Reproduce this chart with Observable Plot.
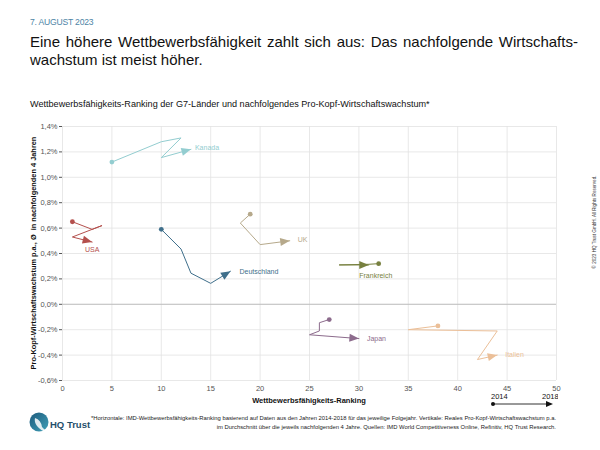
<!DOCTYPE html>
<html><head><meta charset="utf-8">
<script src="https://cdn.jsdelivr.net/npm/d3@7"></script>
<script src="https://cdn.jsdelivr.net/npm/@observablehq/plot@0.6"></script>
<style>
  body { margin:0; width:600px; height:450px; position:relative; overflow:hidden; background:#fff;
         font-family:"Liberation Sans", Arial, Helvetica, sans-serif; color:#111; }
  .abs { position:absolute; }
  #date { left:30px; top:17px; font-size:8.6px; color:#4d84a6; letter-spacing:-0.2px; }
  #title { left:30px; top:33px; width:548px; font-size:15px; line-height:18px; color:#111; }
  #title .l1 { white-space:nowrap; display:flex; justify-content:space-between; }
  #sub { left:30px; top:99px; font-size:9.1px; color:#111; }
  #chart { left:0; top:110px; }
  #ylab { left:33px; top:253px; transform:translate(-50%,-50%) rotate(-90deg); font-size:7.4px; font-weight:bold; white-space:nowrap; color:#111; }
  #copy { left:594px; top:222px; transform:translate(-50%,-50%) rotate(-90deg); font-size:4.6px; white-space:nowrap; color:#333; }
  #xlab { left:309px; top:396px; transform:translateX(-50%); font-size:7.5px; font-weight:bold; white-space:nowrap; }
  #legend { left:486px; top:392px; }
  #logo { left:28px; top:411px; }
  #brand { left:50px; top:419px; font-size:9.5px; font-weight:bold; color:#1f4f6b; }
  #foot { left:60px; top:414px; width:496px; text-align:right; font-size:5.85px; line-height:9px; color:#222; white-space:nowrap; }
</style>
</head><body>
<div id="date" class="abs">7. AUGUST 2023</div>
<div id="title" class="abs">
  <div class="l1"><span>Eine</span><span>höhere</span><span>Wettbewerbsfähigkeit</span><span>zahlt</span><span>sich</span><span>aus:</span><span>Das</span><span>nachfolgende</span><span>Wirtschafts-</span></div>
  <div>wachstum ist meist höher.</div>
</div>
<div id="sub" class="abs">Wettbewerbsfähigkeits-Ranking der G7-Länder und nachfolgendes Pro-Kopf-Wirtschaftswachstum*</div>
<div id="chart" class="abs"></div>
<div id="ylab" class="abs">Pro-Kopf-Wirtschaftswachstum p.a., Ø&nbsp; in nachfolgenden 4 Jahren</div>
<div id="copy" class="abs">© 2023 HQ Trust GmbH. All Rights Reserved.</div>
<div id="xlab" class="abs">Wettbewerbsfähigkeits-Ranking</div>
<svg id="legend" class="abs" width="72" height="16">
  <text x="5" y="7" font-size="7.5" fill="#111" font-family="Liberation Sans, Arial, sans-serif">2014</text>
  <text x="56" y="7" font-size="7.5" fill="#111" font-family="Liberation Sans, Arial, sans-serif">2018</text>
  <line x1="7" y1="12" x2="62" y2="12" stroke="#333" stroke-width="1"/>
  <circle cx="7" cy="12" r="2" fill="#111"/>
  <path d="M60,9 L67,12 L60,15 Z" fill="#111"/>
</svg>
<svg id="logo" class="abs" width="22" height="24" viewBox="0 0 22 24">
  <defs><linearGradient id="lg" x1="0" y1="0" x2="1" y2="1"><stop offset="0" stop-color="#1d5a7c"/><stop offset="1" stop-color="#3fa0b8"/></linearGradient></defs>
  <circle cx="11" cy="11" r="9.5" fill="url(#lg)"/>
  <path d="M7,7 Q13,9 14,16 L20,22 Q13,20 9,15 Q6,11 7,7Z" fill="#fff" opacity="0.85"/>
</svg>
<div id="brand" class="abs">HQ Trust</div>
<div id="foot" class="abs">*Horizontale: IMD-Wettbewerbsfähigkeits-Ranking basierend auf Daten aus den Jahren 2014-2018 für das jeweilige Folgejahr. Vertikale: Reales Pro-Kopf-Wirtschaftswachstum p.a.<br>im Durchschnitt über die jeweils nachfolgenden 4 Jahre. Quellen: IMD World Competitiveness Online, Refinitiv, HQ Trust Research.</div>
<script>
// ---- data ----
const years = [2014, 2015, 2016, 2017, 2018];
const countries = ["Kanada", "USA", "Deutschland", "UK", "Frankreich", "Japan", "Italien"];
const rankKanada = [5, 10, 12, 10, 13];
const growthKanada = [1.12, 1.28, 1.31, 1.155, 1.22];
const rankUSA = [1, 3, 4, 1, 3];
const growthUSA = [0.65, 0.59, 0.62, 0.53, 0.49];
const rankDeutschland = [10, 12, 13, 15, 17];
const growthDeutschland = [0.59, 0.435, 0.245, 0.165, 0.26];
const rankUK = [19, 18, 19, 20, 23];
const growthUK = [0.71, 0.64, 0.555, 0.47, 0.50];
const rankFrankreich = [32, 32, 31, 28, 31];
const growthFrankreich = [0.32, 0.32, 0.315, 0.31, 0.31];
const rankJapan = [27, 26, 26, 25, 30];
const growthJapan = [-0.12, -0.145, -0.21, -0.24, -0.27];
const rankItalien = [38, 35, 44, 42, 44];
const growthItalien = [-0.17, -0.20, -0.21, -0.435, -0.40];
const xTicks = [0, 5, 10, 15, 20, 25, 30, 35, 40, 45, 50];
const yTicks = [-0.6, -0.4, -0.2, 0, 0.2, 0.4, 0.6, 0.8, 1.0, 1.2, 1.4];

// ---- styles ----
const colors = {Kanada:"#93cdd0", USA:"#b4504d", Deutschland:"#3f6f8b", UK:"#b6a98b", Frankreich:"#77803f", Japan:"#8c6b8c", Italien:"#ebbf98"};
const labelStyle = {
  Kanada: {dx: 4, dy: -2, textAnchor: "start"},
  USA: {dx: 0, dy: 8, textAnchor: "middle"},
  Deutschland: {dx: 9, dy: 0, textAnchor: "start"},
  UK: {dx: 8, dy: -1, textAnchor: "start"},
  Frankreich: {dx: 7, dy: 11, textAnchor: "middle"},
  Japan: {dx: 8, dy: 0, textAnchor: "start"},
  Italien: {dx: 8, dy: 0, textAnchor: "start"}
};

const series = {
  Kanada: [rankKanada, growthKanada], USA: [rankUSA, growthUSA],
  Deutschland: [rankDeutschland, growthDeutschland], UK: [rankUK, growthUK],
  Frankreich: [rankFrankreich, growthFrankreich], Japan: [rankJapan, growthJapan],
  Italien: [rankItalien, growthItalien]
};
const rows = countries.flatMap(c => years.map((yr, i) => ({country: c, year: yr, rank: series[c][0][i], growth: series[c][1][i]})));

const marks = [
  Plot.ruleX(xTicks, {stroke: "#e2e2e2", strokeWidth: 0.8}),
  Plot.ruleY(yTicks, {stroke: "#e2e2e2", strokeWidth: 0.8}),
  Plot.ruleY([0], {stroke: "#b5b5b5", strokeWidth: 0.8})
];
for (const c of countries) {
  const d = rows.filter(r => r.country === c);
  marks.push(Plot.line(d, {x: "rank", y: "growth", stroke: colors[c], strokeWidth: 1, markerEnd: "arrow"}));
  marks.push(Plot.dot(d.slice(0, 1), {x: "rank", y: "growth", r: 2.4, fill: colors[c]}));
  marks.push(Plot.text(d.slice(-1), {x: "rank", y: "growth", text: "country", fill: colors[c], fontSize: 7, ...labelStyle[c]}));
}

const chart = Plot.plot({
  width: 600, height: 300,
  marginLeft: 62, marginRight: 44, marginTop: 16, marginBottom: 30,
  style: {fontFamily: "Liberation Sans, Arial, sans-serif", fontSize: "7.5px", color: "#555", background: "transparent"},
  x: {domain: [0, 50], ticks: xTicks, tickSize: 0, tickPadding: 5, label: null},
  y: {domain: [-0.6, 1.4], ticks: yTicks, tickSize: 3, tickPadding: 2, label: null,
      tickFormat: v => v.toFixed(1).replace(".", ",") + "%"},
  marks
});
chart.querySelectorAll("marker").forEach(m => {
  const col = m.getAttribute("stroke");
  m.setAttribute("viewBox", "-10 -5 10 10");
  m.setAttribute("markerUnits", "userSpaceOnUse");
  m.setAttribute("markerWidth", 10);
  m.setAttribute("markerHeight", 10);
  m.setAttribute("refX", 0);
  m.setAttribute("refY", 0);
  m.setAttribute("fill", col);
  m.setAttribute("stroke", "none");
  m.querySelector("path").setAttribute("d", "M-9.5,-4L0,0L-9.5,4Z");
});
document.getElementById("chart").appendChild(chart);
</script>
</body></html>
